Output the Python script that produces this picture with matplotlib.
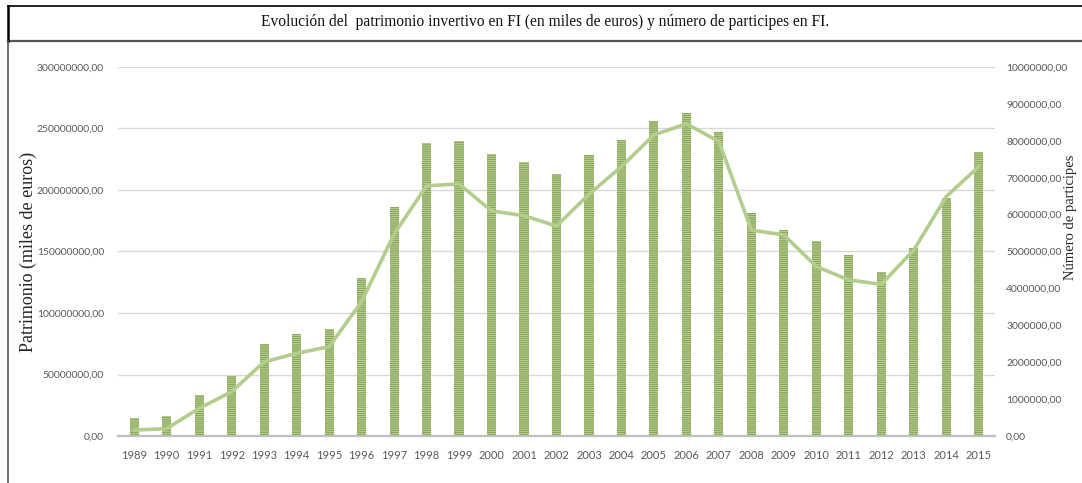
import matplotlib.pyplot as plt
from matplotlib.lines import Line2D
import numpy as np

# Data
years = [str(y) for y in range(1989, 2016)]
patrimonio = [14.9e6, 16.3e6, 33.1e6, 48.8e6, 74.8e6, 82.7e6, 86.7e6, 128.2e6,
              186.5e6, 238.5e6, 239.5e6, 229.5e6, 222.5e6, 213.0e6, 228.5e6,
              240.7e6, 256.0e6, 263.0e6, 247.5e6, 181.0e6, 167.5e6, 158.8e6,
              147.0e6, 133.0e6, 152.5e6, 193.5e6, 230.5e6]
participes = [0.16e6, 0.20e6, 0.75e6, 1.20e6, 2.01e6, 2.24e6, 2.42e6, 3.64e6,
              5.47e6, 6.78e6, 6.83e6, 6.10e6, 5.97e6, 5.69e6, 6.55e6, 7.30e6,
              8.16e6, 8.46e6, 7.98e6, 5.58e6, 5.45e6, 4.59e6, 4.23e6, 4.11e6,
              5.04e6, 6.49e6, 7.30e6]

left_ticks = np.arange(0, 300e6 + 1, 50e6)
right_ticks = np.arange(0, 10e6 + 1, 1e6)

plt.rcParams['hatch.linewidth'] = 1.0

fig = plt.figure(figsize=(10.82, 4.83), dpi=100)
fig.patch.set_facecolor('white')

ax = fig.add_axes([0.109, 0.0973, 0.8106, 0.764])
x = np.arange(len(years))

# Bars (left axis)
ax.bar(x, patrimonio, width=0.28, color='#cadcab', edgecolor='#8aa85a',
       linewidth=0, hatch='--------', zorder=2)

ax.set_ylim(0, 300e6)
ax.set_xlim(-0.5, len(years) - 0.5)
ax.set_yticks(left_ticks)
ax.set_yticklabels([f'{v:.2f}'.replace('.', ',') for v in left_ticks])
ax.set_xticks(x)
ax.set_xticklabels(years)
ax.grid(axis='y', color='#d9d9d9', linewidth=1, zorder=0)
ax.set_axisbelow(True)
for s in ['top', 'right', 'left']:
    ax.spines[s].set_visible(False)
ax.spines['bottom'].set_color('#bfbfbf')
ax.spines['bottom'].set_linewidth(1.6)
ax.tick_params(axis='y', length=0, labelsize=7.5, labelcolor='#595959', pad=10)
ax.tick_params(axis='x', length=0, labelsize=8, labelcolor='#595959', pad=10)
for lab in ax.get_xticklabels() + ax.get_yticklabels():
    lab.set_family('Lato')
ax.set_ylabel('Patrimonio (miles de euros)', family='Liberation Serif',
              fontsize=13, color='#262626', labelpad=0)

# Line (right axis)
ax2 = ax.twinx()
ax2.plot(x, participes, color='#b3cd8c', linewidth=2.6, zorder=3,
         solid_joinstyle='round')
ax2.set_ylim(0, 10e6)
ax2.set_yticks(right_ticks)
ax2.set_yticklabels([f'{v:.2f}'.replace('.', ',') for v in right_ticks])
for s in ['top', 'right', 'left', 'bottom']:
    ax2.spines[s].set_visible(False)
ax2.tick_params(axis='y', length=0, labelsize=7.5, labelcolor='#595959', pad=8)
for lab in ax2.get_yticklabels():
    lab.set_family('Lato')
ax2.set_ylabel('Número de participes', family='Liberation Serif',
               fontsize=10.5, color='#262626', rotation=90)
ax2.yaxis.set_label_coords(1.079, 0.593)

# Title box and frame
fig.add_artist(Line2D([8 / 1082, 1], [1 - 6 / 483, 1 - 6 / 483],
                      color='black', linewidth=1.2, transform=fig.transFigure))
fig.add_artist(Line2D([8 / 1082, 1], [1 - 41 / 483, 1 - 41 / 483],
                      color='#555555', linewidth=1.6, transform=fig.transFigure))
fig.add_artist(Line2D([8 / 1082, 8 / 1082], [1 - 6 / 483, 1 - 41 / 483],
                      color='black', linewidth=1.8, transform=fig.transFigure))
fig.add_artist(Line2D([8 / 1082, 8 / 1082], [1 - 41 / 483, 0],
                      color='#555555', linewidth=1.2, transform=fig.transFigure))
fig.text(545 / 1082, 1 - 22 / 483,
         'Evolución del  patrimonio invertivo en FI (en miles de euros) y número de participes en FI.',
         ha='center', va='center', family='Liberation Serif', fontsize=11.2,
         color='#111111')

fig.savefig('out.png', dpi=100, facecolor='white')
